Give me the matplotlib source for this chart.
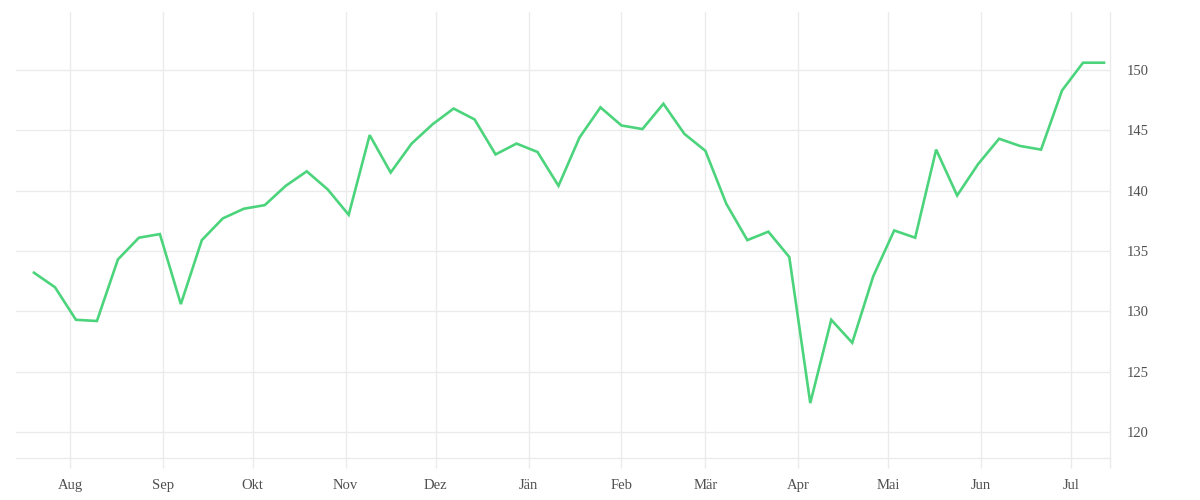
import numpy as np
import pandas as pd
import matplotlib
matplotlib.use('Agg')
import matplotlib.pyplot as plt
import matplotlib.dates as mdates

# Weekly values
dates = pd.date_range('2022-07-20', periods=52, freq='7D')
values = [133.2, 132.0, 129.3, 129.2, 134.3, 136.1, 136.4, 130.6, 135.9, 137.7,
          138.5, 138.8, 140.4, 141.6, 140.1, 138.0, 144.6, 141.5, 143.9, 145.5,
          146.8, 145.9, 143.0, 143.9, 143.2, 140.4, 144.4, 146.9, 145.4, 145.1,
          147.2, 144.7, 143.3, 138.9, 135.9, 136.6, 134.5, 122.4, 129.3, 127.4,
          132.9, 136.7, 136.1, 143.4, 139.6, 142.2, 144.3, 143.7, 143.4, 148.3,
          150.6, 150.6]
month_labels = ['Aug', 'Sep', 'Okt', 'Nov', 'Dez', 'Jän', 'Feb', 'Mär',
                'Apr', 'Mai', 'Jun', 'Jul']
month_ticks = pd.date_range('2022-08-01', periods=12, freq='MS')
y_ticks = [120, 125, 130, 135, 140, 145, 150]

grid_col = '#ebebeb'
text_col = '#505050'
plt.rcParams['font.family'] = ['Liberation Serif', 'DejaVu Serif']

fig = plt.figure(figsize=(12, 5), dpi=100)
ax = fig.add_axes([16 / 1200, 42 / 500, 1094 / 1200, 446 / 500])

ax.plot(dates, values, color='#4cd47c', linewidth=1.9, solid_joinstyle='miter')

x_left = pd.Timestamp('2022-07-14')
x_right = pd.Timestamp('2023-07-14')
ax.set_xlim(x_left, x_right)
ax.set_ylim(117.85, 154.8)

ax.set_xticks(month_ticks)
ax.set_xticklabels(month_labels)
ax.set_xticks([x_right], minor=True)
ax.set_yticks(y_ticks)

ax.yaxis.tick_right()
ax.grid(True, which='major', color=grid_col, linewidth=1)
ax.tick_params(axis='x', which='both', length=7.5, width=1, color=grid_col,
               colors=text_col, labelsize=10.5, pad=7.5)
ax.tick_params(axis='x', which='minor', labelbottom=False)
ax.tick_params(axis='y', length=0, colors=text_col, labelsize=10.5, pad=12)

for s in ['top', 'left']:
    ax.spines[s].set_visible(False)
for s in ['bottom', 'right']:
    ax.spines[s].set_color(grid_col)
    ax.spines[s].set_linewidth(1)

fig.savefig('out.png', dpi=100)
